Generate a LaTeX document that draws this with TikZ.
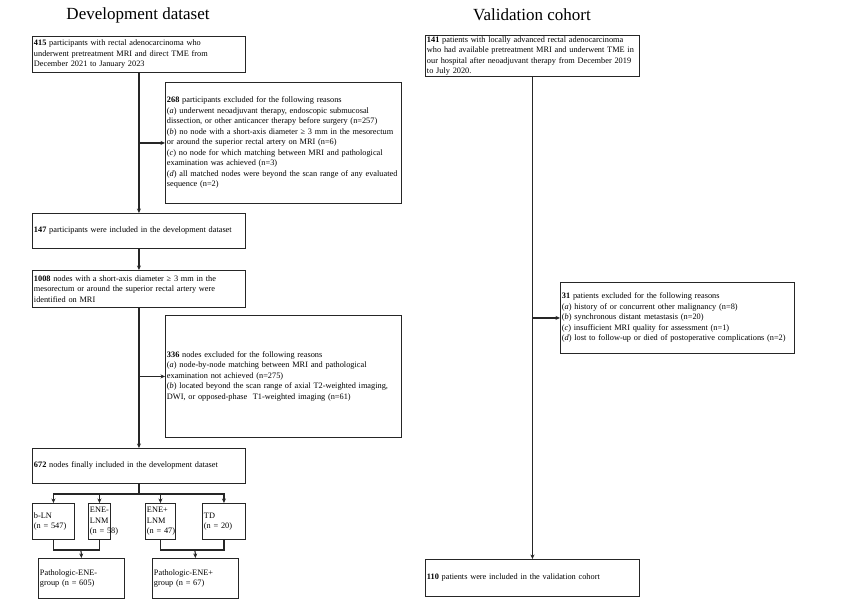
\documentclass[tikz,border=0pt]{standalone}
\usepackage{fontspec}
\setmainfont{Liberation Serif}
\usetikzlibrary{arrows.meta,calc}
\hyphenpenalty=10000
\exhyphenpenalty=10000
\begin{document}
\begin{tikzpicture}[x=1pt,y=-1pt,
  box/.style={draw=black!85, line width=0.9pt, rectangle, anchor=north west,
    inner xsep=1.5pt, inner ysep=0pt, align=left,
    font=\fontsize{8.3}{10.5}\selectfont},
  arr/.style={line width=1.2pt, draw=black!85, -{Stealth[length=4.5pt,width=4pt]}},
  ln/.style={line width=1.2pt, draw=black!85},
  ttl/.style={font=\fontsize{17}{20}\selectfont, inner sep=0pt}]
\useasboundingbox (0,0) rectangle (862,601);

% titles
\node[ttl] (t1) at (138,15) {Development dataset};
\node[ttl] (t2) at (532,15) {Validation cohort};

% left column
\node[box, text width=210pt, minimum height=36pt] (A) at (32,36)
 {\textbf{415} participants with rectal adenocarcinoma who\\underwent pretreatment MRI and direct TME from\\December 2021 to January 2023};
\node[box, text width=233pt, minimum height=121pt] (B) at (165,82)
 {\textbf{268} participants excluded for the following reasons\\
 (\textit{a}) underwent neoadjuvant therapy, endoscopic submucosal\\
 dissection, or other anticancer therapy before surgery (n=257)\\
 (\textit{b}) no node with a short-axis diameter ≥ 3 mm in the mesorectum\\
 or around the superior rectal artery on MRI (n=6)\\
 (\textit{c}) no node for which matching between MRI and pathological\\
 examination was achieved (n=3)\\
 \mbox{(\textit{d}) all matched nodes were beyond the scan range of any evaluated}\\
 sequence (n=2)};
\node[box, text width=210pt, minimum height=35pt] (C) at (32,213)
 {\textbf{147} participants were included in the development dataset};
\node[box, text width=210pt, minimum height=37pt] (D) at (32,270)
 {\textbf{1008} nodes with a short-axis diameter ≥ 3 mm in the\\mesorectum or around the superior rectal artery were\\identified on MRI};
\node[box, text width=233pt, minimum height=122pt] (E) at (165,315)
 {\textbf{336} nodes excluded for the following reasons\\
 (\textit{a}) node-by-node matching between MRI and pathological\\
 examination not achieved (n=275)\\
 (\textit{b}) located beyond the scan range of axial T2-weighted imaging,\\
 DWI, or opposed-phase\ \ T1-weighted imaging (n=61)};
\node[box, text width=210pt, minimum height=35pt] (F) at (32,448)
 {\textbf{672} nodes finally included in the development dataset};

\node[box, text width=39pt, minimum height=36pt] (G1) at (32,503) {\mbox{b-LN}\\\mbox{(n = 547)}};
\node[box, text width=19pt, minimum height=36pt] (G2) at (88,503) {\mbox{ENE-}\\\mbox{LNM}\\\mbox{(n = 58)}};
\node[box, text width=27pt, minimum height=36pt] (G3) at (145,503) {\mbox{ENE+}\\\mbox{LNM}\\\mbox{(n = 47)}};
\node[box, text width=40pt, minimum height=36pt] (G4) at (202,503) {\mbox{TD}\\\mbox{(n = 20)}};

\node[box, text width=83pt, minimum height=40pt] (H1) at (38,558) {\mbox{Pathologic-ENE-}\\\mbox{group (n = 605)}};
\node[box, text width=83pt, minimum height=40pt] (H2) at (152,558) {\mbox{Pathologic-ENE+}\\\mbox{group (n = 67)}};

% left connectors
\draw[arr] (A.south) -- (C.north);
\draw[arr] (A.south |- B.west) -- (B.west);
\draw[arr] (C.south) -- (D.north);
\draw[arr] (D.south) -- (F.north);
\draw[arr] (D.south |- E.west) -- (E.west);

\coordinate (fj) at ($(F.south)+(0,10)$);
\draw[ln] (F.south) -- (fj);
\draw[arr] (fj) -| (G1.north);
\draw[arr] (fj) -| (G2.north);
\draw[arr] (fj) -| (G3.north);
\draw[arr] (fj) -| (G4.north);

\coordinate (m1) at (81,550);
\coordinate (m2) at (195,550);
\draw[ln] (G1.south) |- (m1) -| (G2.south);
\draw[ln] (G3.south) |- (m2) -| (G4.south);
\draw[arr] (m1) -- (H1.north);
\draw[arr] (m2) -- (H2.north);

% right column
\node[box, text width=211pt, minimum height=41pt] (R1) at (425,35)
 {\textbf{141} patients with locally advanced rectal adenocarcinoma\\who had available pretreatment MRI and underwent TME in\\our hospital after neoadjuvant therapy from December 2019\\to July 2020.};
\node[box, text width=231pt, minimum height=71pt] (R2) at (560,282)
 {\textbf{31} patients excluded for the following reasons\\
 (\textit{a}) history of or concurrent other malignancy (n=8)\\
 (\textit{b}) synchronous distant metastasis (n=20)\\
 (\textit{c}) insufficient MRI quality for assessment (n=1)\\
 (\textit{d}) lost to follow-up or died of postoperative complications (n=2)};
\node[box, text width=211pt, minimum height=37pt] (R3) at (425,559)
 {\textbf{110} patients were included in the validation cohort};

\draw[arr] (R1.south) -- (R3.north);
\draw[arr] (R1.south |- R2.west) -- (R2.west);
\end{tikzpicture}
\end{document}
